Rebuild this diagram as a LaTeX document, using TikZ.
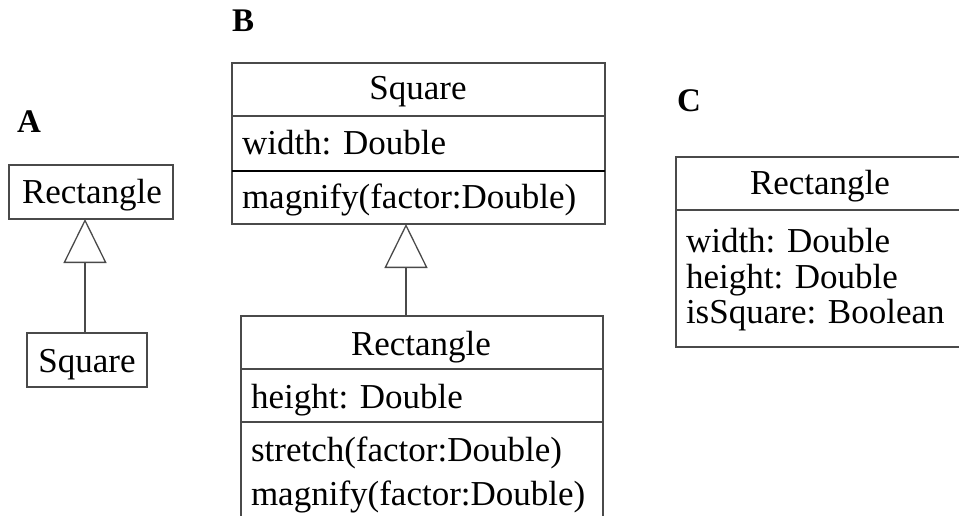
\documentclass[tikz,border=0pt]{standalone}
\usepackage{fontspec}
\setmainfont{Liberation Serif}
\usetikzlibrary{arrows.meta}
\definecolor{edge}{HTML}{4A4A4A}
\tikzset{
  classbox/.style={draw=edge, line width=1.3pt, rectangle, inner sep=0pt, outer sep=0pt, anchor=north west},
  sep/.style={draw=edge, line width=1.3pt},
  thicksep/.style={draw=black, line width=2pt},
  txt/.style={inner sep=0pt, outer sep=0pt, font=\fontsize{35}{36}\selectfont},
  tag/.style={inner sep=0pt, outer sep=0pt, anchor=base west, font=\fontsize{33}{33}\selectfont\bfseries},
  gen/.style={draw=edge, line width=1.3pt, -{Triangle[open, length=44pt, width=43pt]}},
}
\begin{document}
\begin{tikzpicture}[x=1pt, y=-1pt]
\useasboundingbox (0,0) rectangle (959,516);
\clip (0,0) rectangle (959,516);

% ---- A: plain inheritance ----
\node[tag] (labA) at (17,133) {A};
\node[classbox, minimum width=164pt, minimum height=54pt] (recA) at (9,165) {};
\node[txt, anchor=base] (recAname) at (92,204) {Rectangle};
\node[classbox, minimum width=120pt, minimum height=54pt] (sqA) at (27,333) {};
\node[txt, anchor=base] (sqAname) at (87,372) {Square};
\coordinate (gA) at (85,333);
\draw[gen] (gA) -- (gA |- recA.south);

% ---- B: Rectangle derived from Square ----
\node[tag] (labB) at (232,32) {B};
\node[classbox, minimum width=373pt, minimum height=161pt] (sqB) at (232,63) {};
\node[txt, anchor=base] (sqBname) at (418,100) {Square};
\draw[sep] (sqB.west |- 0,116) -- (sqB.east |- 0,116);
\draw[thicksep] (sqB.west |- 0,171) -- (sqB.east |- 0,171);
\node[txt, anchor=base west] (sqBattr) at (242,155) {width: Double};
\node[txt, anchor=base west] (sqBop) at (242,208) {magnify(factor:Double)};

\node[classbox, minimum width=362pt, minimum height=230pt] (recB) at (241,316) {};
\node[txt, anchor=base] (recBname) at (421,355) {Rectangle};
\draw[sep] (recB.west |- 0,369) -- (recB.east |- 0,369);
\draw[sep] (recB.west |- 0,422) -- (recB.east |- 0,422);
\node[txt, anchor=base west] (recBattr) at (251,408) {height: Double};
\node[txt, anchor=base west] (recBop1) at (251,461) {stretch(factor:Double)};
\node[txt, anchor=base west] (recBop2) at (251,505) {magnify(factor:Double)};
\coordinate (gB) at (406,316);
\draw[gen] (gB) -- (gB |- sqB.south);

% ---- C: single class with a flag ----
\node[tag] (labC) at (677,112) {C};
\node[classbox, minimum width=310pt, minimum height=190pt] (recC) at (676,157) {};
\node[txt, anchor=base] (recCname) at (820,194) {Rectangle};
\draw[sep] (recC.west |- 0,210) -- (recC.east |- 0,210);
\node[txt, anchor=base west] (recCa1) at (686,252) {width: Double};
\node[txt, anchor=base west] (recCa2) at (686,288) {height: Double};
\node[txt, anchor=base west] (recCa3) at (686,323) {isSquare: Boolean};
\end{tikzpicture}
\end{document}
